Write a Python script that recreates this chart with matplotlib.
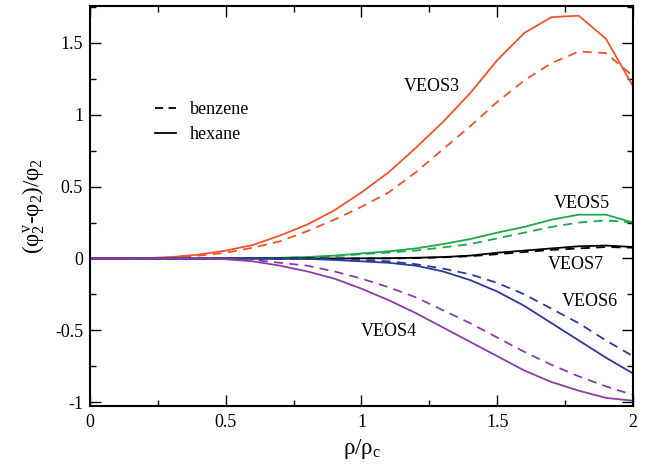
import numpy as np
import matplotlib
matplotlib.use("Agg")
import matplotlib.pyplot as plt
from matplotlib.lines import Line2D
from matplotlib.ticker import MultipleLocator

plt.rcParams['font.family'] = ['Liberation Serif', 'DejaVu Serif']
plt.rcParams['mathtext.fontset'] = 'custom'
plt.rcParams['mathtext.rm'] = 'Liberation Serif'
plt.rcParams['mathtext.it'] = 'Liberation Serif'
plt.rcParams['mathtext.bf'] = 'Liberation Serif'

# reduced density rho/rho_c
x = [0.0, 0.1, 0.2, 0.3, 0.4, 0.5, 0.6, 0.7, 0.8, 0.9, 1.0,
     1.1, 1.2, 1.3, 1.4, 1.5, 1.6, 1.7, 1.8, 1.9, 2.0]

# (phi2^v - phi2)/phi2, hexane (solid) and benzene (dashed)
veos3_hex = [0, 0, 0.002, 0.01, 0.027, 0.055, 0.094, 0.16, 0.236, 0.335, 0.46,
             0.60, 0.77, 0.95, 1.15, 1.38, 1.57, 1.68, 1.69, 1.53, 1.20]
veos3_ben = [0, 0, 0.001, 0.008, 0.02, 0.04, 0.075, 0.12, 0.19, 0.27, 0.36,
             0.46, 0.60, 0.76, 0.92, 1.09, 1.24, 1.36, 1.44, 1.43, 1.27]
veos5_hex = [0, 0, 0, 0, 0, 0.001, 0.003, 0.005, 0.01, 0.02, 0.035,
             0.05, 0.07, 0.10, 0.135, 0.18, 0.22, 0.27, 0.305, 0.305, 0.25]
veos5_ben = [0, 0, 0, 0, 0, 0.001, 0.002, 0.004, 0.008, 0.016, 0.03,
             0.042, 0.055, 0.077, 0.10, 0.14, 0.18, 0.22, 0.25, 0.265, 0.25]
veos7_hex = [0, 0, 0, 0, 0, 0, 0, 0, 0, 0, 0.001,
             0.002, 0.005, 0.01, 0.02, 0.04, 0.055, 0.07, 0.085, 0.09, 0.08]
veos7_ben = [0, 0, 0, 0, 0, 0, 0, 0, 0, 0, 0,
             0.001, 0.003, 0.008, 0.016, 0.03, 0.045, 0.06, 0.07, 0.08, 0.075]
veos6_hex = [0, 0, 0, 0, 0, 0, -0.001, -0.002, -0.003, -0.01, -0.02,
             -0.03, -0.05, -0.09, -0.15, -0.23, -0.33, -0.45, -0.57, -0.69, -0.80]
veos6_ben = [0, 0, 0, 0, 0, 0, 0, -0.001, -0.002, -0.005, -0.01,
             -0.02, -0.04, -0.07, -0.11, -0.17, -0.25, -0.35, -0.45, -0.57, -0.68]
veos4_hex = [0, 0, 0, 0, 0, -0.005, -0.02, -0.05, -0.09, -0.14, -0.21,
             -0.29, -0.38, -0.48, -0.58, -0.68, -0.78, -0.86, -0.92, -0.97, -0.99]
veos4_ben = [0, 0, 0, 0, 0, -0.002, -0.01, -0.03, -0.05, -0.09, -0.14,
             -0.20, -0.27, -0.36, -0.45, -0.55, -0.65, -0.74, -0.82, -0.89, -0.95]

names = ['VEOS3', 'VEOS5', 'VEOS7', 'VEOS6', 'VEOS4']
hexane = [veos3_hex, veos5_hex, veos7_hex, veos6_hex, veos4_hex]
benzene = [veos3_ben, veos5_ben, veos7_ben, veos6_ben, veos4_ben]
colors = ['#f4532a', '#1aa84a', '#000000', '#2c3a9c', '#8a3fa8']
label_pos = [(1.26, 1.20), (1.81, 0.38), (1.79, -0.045), (1.84, -0.30), (1.10, -0.51)]

fig = plt.figure(figsize=(6.55, 4.68), dpi=100)
ax = fig.add_axes([0.1374, 0.133, 0.829, 0.855])

for name, h, b, c, (lx, ly) in zip(names, hexane, benzene, colors, label_pos):
    ax.plot(x, h, '-', color=c, lw=1.3)
    ax.plot(x, b, '--', color=c, lw=1.3, dashes=(5, 3.5))
    ax.text(lx, ly, name, fontsize=13, ha='center', va='center')

handles = [Line2D([], [], color='k', ls='--', lw=1.3, dashes=(4.5, 3)),
           Line2D([], [], color='k', ls='-', lw=1.3)]
ax.legend(handles, ['benzene', 'hexane'], loc='upper left',
          bbox_to_anchor=(0.12, 0.762), frameon=False, fontsize=13,
          handlelength=1.15, handletextpad=0.75, labelspacing=0.45,
          borderpad=0, borderaxespad=0)

ax.set_xlim(0, 2)
ax.set_ylim(-1.025, 1.76)
ax.xaxis.set_minor_locator(MultipleLocator(0.25))
ax.yaxis.set_minor_locator(MultipleLocator(0.25))
ax.set_xticks([0, 0.5, 1, 1.5, 2])
ax.set_xticklabels(['0', '0.5', '1', '1.5', '2'])
ax.set_yticks([-1, -0.5, 0, 0.5, 1, 1.5])
ax.set_yticklabels(['-1', '-0.5', '0', '0.5', '1', '1.5'])
ax.tick_params(which='major', direction='in', top=True, right=True,
               length=8, width=1.0, labelsize=13)
ax.tick_params(which='minor', direction='in', top=True, right=True,
               length=4.5, width=1.0)
ax.tick_params(axis='x', which='major', pad=6)
ax.tick_params(axis='y', which='major', pad=5)
for s in ax.spines.values():
    s.set_linewidth(1.5)

ax.set_xlabel(r'$\rho/\rho_c$', fontsize=16.5, labelpad=4)
ax.set_ylabel(r'$(φ_2^v$-$φ_2)/φ_2$', fontsize=16.5, labelpad=6)

fig.savefig('out.png', dpi=100)
